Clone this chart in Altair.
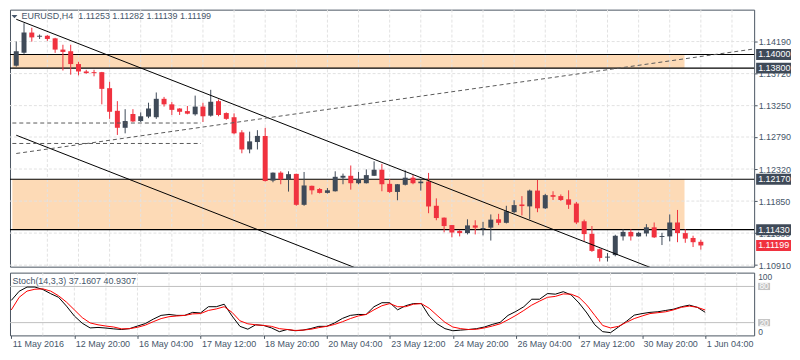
import json
import altair as alt
import pandas as pd

# ---------------- data ----------------
bars = list(range(89))
opens = [1.13836, 1.14024, 1.14322, 1.14261, 1.14275, 1.14237, 1.14072, 1.14048, 1.13860, 1.13751,
         1.13741, 1.13741, 1.13506, 1.13174, 1.12925, 1.13127, 1.13024, 1.13089, 1.13080, 1.13350,
         1.13269, 1.13208, 1.13170, 1.13123, 1.13236, 1.13103, 1.13316, 1.13141, 1.13080, 1.12858,
         1.12607, 1.12716, 1.12806, 1.12150, 1.12267, 1.12169, 1.12249, 1.11795, 1.12074, 1.12027,
         1.11970, 1.11994, 1.12193, 1.12221, 1.12112, 1.12112, 1.12221, 1.12310, 1.12103, 1.11984,
         1.12089, 1.12193, 1.12112, 1.12136, 1.11781, 1.11607, 1.11498, 1.11413, 1.11380, 1.11493,
         1.11441, 1.11460, 1.11583, 1.11531, 1.11687, 1.11800, 1.11772, 1.12004, 1.11744, 1.11937,
         1.11923, 1.11876, 1.11814, 1.11554, 1.11370, 1.11144, 1.11021, 1.11058, 1.11332, 1.11398,
         1.11332, 1.11375, 1.11465, 1.11323, 1.11332, 1.11536, 1.11380, 1.11309, 1.11253]
highs = [1.14190, 1.14459, 1.14393, 1.14293, 1.14285, 1.14245, 1.14143, 1.14143, 1.13893, 1.13775,
         1.13775, 1.13745, 1.13599, 1.13316, 1.13198, 1.13198, 1.13151, 1.13293, 1.13443, 1.13378,
         1.13302, 1.13212, 1.13245, 1.13397, 1.13293, 1.13482, 1.13340, 1.13151, 1.13137, 1.12890,
         1.12868, 1.12890, 1.12925, 1.12270, 1.12287, 1.12287, 1.12252, 1.12277, 1.12076, 1.12041,
         1.12041, 1.12287, 1.12253, 1.12372, 1.12277, 1.12315, 1.12433, 1.12395, 1.12174, 1.12100,
         1.12301, 1.12231, 1.12160, 1.12263, 1.11890, 1.11610, 1.11500, 1.11427, 1.11583, 1.11569,
         1.11545, 1.11654, 1.11663, 1.11781, 1.11862, 1.11923, 1.12018, 1.12160, 1.11956, 1.11994,
         1.11947, 1.12008, 1.11838, 1.11578, 1.11484, 1.11153, 1.11087, 1.11356, 1.11436, 1.11436,
         1.11398, 1.11512, 1.11536, 1.11384, 1.11654, 1.11720, 1.11436, 1.11342, 1.11282]
lows = [1.13822, 1.14010, 1.14190, 1.14228, 1.14200, 1.14024, 1.13765, 1.13704, 1.13694, 1.13718,
        1.13680, 1.13269, 1.13056, 1.12820, 1.12844, 1.13010, 1.13010, 1.13066, 1.13056, 1.13236,
        1.13113, 1.13113, 1.13123, 1.13103, 1.13010, 1.13089, 1.13094, 1.13042, 1.12830, 1.12551,
        1.12551, 1.12607, 1.12136, 1.12126, 1.12097, 1.11989, 1.11781, 1.11781, 1.11947, 1.11961,
        1.11961, 1.11990, 1.12097, 1.12018, 1.12097, 1.12108, 1.12218, 1.11994, 1.11970, 1.11862,
        1.12079, 1.12097, 1.12004, 1.11672, 1.11569, 1.11392, 1.11318, 1.11332, 1.11361, 1.11361,
        1.11347, 1.11271, 1.11498, 1.11522, 1.11672, 1.11640, 1.11583, 1.11687, 1.11735, 1.11866,
        1.11852, 1.11735, 1.11512, 1.11261, 1.11105, 1.10964, 1.10964, 1.11040, 1.11271, 1.11271,
        1.11328, 1.11332, 1.11309, 1.11205, 1.11260, 1.11247, 1.11238, 1.11176, 1.11139]
closes = [1.14048, 1.14322, 1.14251, 1.14275, 1.14228, 1.14072, 1.14038, 1.13860, 1.13751, 1.13727,
          1.13727, 1.13496, 1.13160, 1.12925, 1.13024, 1.13018, 1.13094, 1.13208, 1.13350, 1.13269,
          1.13188, 1.13160, 1.13132, 1.13236, 1.13094, 1.13307, 1.13113, 1.13056, 1.12844, 1.12607,
          1.12726, 1.12806, 1.12145, 1.12267, 1.12169, 1.12245, 1.11795, 1.12079, 1.12008, 1.11970,
          1.12008, 1.12206, 1.12221, 1.12112, 1.12174, 1.12231, 1.12310, 1.12097, 1.11984, 1.12097,
          1.12193, 1.12112, 1.12136, 1.11771, 1.11601, 1.11484, 1.11389, 1.11380, 1.11493, 1.11460,
          1.11455, 1.11578, 1.11531, 1.11701, 1.11791, 1.11777, 1.12004, 1.11744, 1.11937, 1.11913,
          1.11866, 1.11796, 1.11536, 1.11366, 1.11119, 1.11016, 1.11035, 1.11341, 1.11398, 1.11332,
          1.11384, 1.11465, 1.11318, 1.11337, 1.11536, 1.11380, 1.11299, 1.11247, 1.11199]

stoch_k = [56.8, 72, 79, 79, 75, 68, 62, 47.4, 31, 19, 11.2, 12, 11, 9.6, 8.6, 10, 14.3, 18.4, 25.7, 32,
           33.5, 32, 32, 37, 36, 46.4, 46.4, 50.5, 31, 13.8, 9.1, 16.4, 15.3, 11.2, 5, 8.6, 6.5, 7.6, 10.2, 13.8,
           13.8, 19.5, 27, 32, 33.5, 33.5, 46.4, 53, 53, 41.2, 48, 51.6, 51.6, 31, 18, 10, 6.5, 7.6, 8.6, 10,
           12.7, 17, 20.5, 32, 38.6, 46.4, 58.8, 58.8, 68.2, 67.2, 71.3, 66, 52.6, 36, 16.4, 5, 3.4, 12.7, 22, 32.4,
           35, 37, 38, 40.2, 42.3, 46.4, 49, 45.4, 37.1607]
stoch_d = [41, 62, 72.3, 75.4, 76, 72.3, 64.5, 54, 41.2, 28.3, 19.5, 16.4, 14.3, 12.7, 9.6, 10, 12.2, 15.8, 21.5, 26.7,
           29.8, 31, 32, 34.5, 35, 40.2, 42.7, 46.4, 37, 23, 18, 16.4, 15.3, 13.8, 10, 8.6, 7, 7.6, 9, 11.7,
           13.8, 17, 21.5, 26.7, 31, 33.5, 41.2, 48, 51.6, 46.4, 46.4, 50.5, 51.6, 43.8, 32, 20.5, 12.7, 10, 8.6, 9,
           11.2, 14.3, 18, 24.7, 32, 40.2, 49, 55.7, 62, 63.5, 67.6, 67.2, 62, 49, 32, 15.3, 11.2, 13.8, 20.5, 26.7,
           31, 35, 36.5, 38, 41.2, 45.4, 47.4, 45.4, 40.9307]

x_tick_bars = list(range(0, 89, 8))
x_tick_labels = ["11 May 2016", "12 May 20:00", "16 May 04:00", "17 May 12:00", "18 May 20:00",
                 "20 May 04:00", "23 May 12:00", "24 May 20:00", "26 May 04:00", "27 May 12:00",
                 "30 May 20:00", "1 Jun 04:00"]
price_ticks = [1.10910, 1.11380, 1.11850, 1.12320, 1.12790, 1.13250, 1.13720, 1.14190]
grid_bars = list(range(4, 94, 4))

level_prices = [1.14000, 1.13800, 1.12170, 1.11430]
band_start = [-0.5, -0.5]
band_end = [85.9, 85.9]
band_low = [1.13800, 1.11430]
band_high = [1.14000, 1.12170]
last_price = 1.11199

trend_ids = ["a", "a", "b", "b"]
trend_bars = [0, 82, 0, 44]
trend_prices = [1.14517, 1.10854, 1.12816, 1.10853]

dash_ids = ["r", "r", "h1", "h1", "h2", "h2"]
dash_bars = [0, 95, -0.5, 23.75, -0.5, 23.75]
dash_prices = [1.12548, 1.14084, 1.12995, 1.12995, 1.12695, 1.12695]

stoch_levels = [80, 20]
stoch_level_labels = ["80", "20"]

header = "EURUSD,H4\u00a0 1.11253 1.11282 1.11139 1.11199"
stoch_title = "Stoch(14,3,3) 37.1607 40.9307"

# ---------------- style ----------------
UP = "#3f4a58"
DOWN = "#f0323f"
BAND = "#fddab6"
GRID = "#e2e2e2"
TEXT = "#46566a"
BORDER = "#4b5662"
FONT = "Liberation Sans"
FS = 9
W = 747
H_MAIN = 258
H_STOCH = 63

xs = alt.Scale(domain=[-0.1625, 94.21], nice=False, zero=False)
ys = alt.Scale(domain=[1.10888, 1.14658], nice=False, zero=False)
sy = alt.Scale(domain=[-1.2, 102.9], nice=False, zero=False)

Y_AXIS = alt.Axis(orient="right", values=price_ticks, format=".5f", title=None, domain=False, grid=False,
                  labelFont=FONT, labelFontSize=FS, labelColor=TEXT, tickColor=BORDER, tickSize=3,
                  labelPadding=1, labelOverlap=False, labelFlush=False)
X_AXIS = alt.Axis(orient="bottom", values=x_tick_bars,
                  labelExpr=json.dumps(x_tick_labels) + "[round(datum.value / 8)]",
                  title=None, domain=False, grid=False,
                  labelFont=FONT, labelFontSize=FS, labelColor=TEXT, tickColor=BORDER, tickSize=3,
                  labelAlign="left", labelBaseline="top", labelPadding=1, labelOffset=1,
                  labelOverlap=False, labelFlush=False, labelBound=False)


def PX(field):
    return alt.X(field, scale=xs, axis=None)


def PY(field):
    return alt.Y(field, scale=ys, axis=Y_AXIS)


candles = pd.DataFrame({"bar": bars, "open": opens, "high": highs, "low": lows, "close": closes})
candles["dir"] = ["up" if c >= o else "down" for o, c in zip(opens, closes)]
ccolor = alt.Color("dir:N", scale=alt.Scale(domain=["up", "down"], range=[UP, DOWN]), legend=None)

bands = alt.Chart(pd.DataFrame({"x0": band_start, "x1": band_end, "lo": band_low, "hi": band_high})).mark_rect(
    color=BAND, clip=True).encode(x=PX("x0:Q"), x2="x1:Q", y=PY("lo:Q"), y2="hi:Q")

hgrid = alt.Chart(pd.DataFrame({"p": price_ticks})).mark_rule(
    color=GRID, strokeDash=[3, 2], strokeWidth=1).encode(y=PY("p:Q"))

vgrid = alt.Chart(pd.DataFrame({"b": grid_bars})).mark_rule(
    color=GRID, strokeDash=[3, 2], strokeWidth=1).encode(x=PX("b:Q"))

levels = alt.Chart(pd.DataFrame({"p": level_prices})).mark_rule(color="black", strokeWidth=1.2).encode(
    y=PY("p:Q"))

trends = alt.Chart(pd.DataFrame({"id": trend_ids, "b": trend_bars, "p": trend_prices})).mark_line(
    color="black", strokeWidth=1, clip=True).encode(x=PX("b:Q"), y=PY("p:Q"), detail="id:N")

dashes = alt.Chart(pd.DataFrame({"id": dash_ids, "b": dash_bars, "p": dash_prices})).mark_line(
    color="#5a5a5a", strokeWidth=1, strokeDash=[4, 3], clip=True).encode(
    x=PX("b:Q"), y=PY("p:Q"), detail="id:N")

wicks = alt.Chart(candles).mark_rule(strokeWidth=1).encode(
    x=PX("bar:Q"), y=PY("low:Q"), y2="high:Q", color=ccolor)

bodies = alt.Chart(candles).mark_bar(size=5).encode(
    x=PX("bar:Q"), y=PY("open:Q"), y2="close:Q", color=ccolor)

tri = alt.Chart(pd.DataFrame({"t": ["v"]})).mark_point(
    shape="M-1,-0.55L1,-0.55L0,0.55Z", size=36, filled=True, opacity=1, color=TEXT, strokeWidth=0).encode(
    x=alt.value(4.5), y=alt.value(7))

head = alt.Chart(pd.DataFrame({"t": [header]})).mark_text(
    align="left", baseline="middle", font=FONT, fontSize=FS, color=TEXT).encode(
    x=alt.value(11.5), y=alt.value(6.5), text="t:N")

box_prices = level_prices + [last_price]
box_df = pd.DataFrame({"p": box_prices,
                       "kind": ["level"] * len(level_prices) + ["last"],
                       "label": [f"{p:.5f}" for p in box_prices]})
boxes = alt.Chart(box_df).mark_point(
    shape="M-1,-0.314H1V0.314H-1Z", size=1225, filled=True, opacity=1, strokeWidth=0).encode(
    x=alt.value(766.5), y=PY("p:Q"),
    color=alt.Color("kind:N", scale=alt.Scale(domain=["level", "last"], range=["#000000", "#56606b"]),
                    legend=None))
box_text = alt.Chart(box_df).mark_text(
    align="left", baseline="middle", font=FONT, fontSize=FS, color="white").encode(
    x=alt.value(751), y=PY("p:Q"), text="label:N")

main = alt.layer(bands, hgrid, vgrid, levels, wicks, bodies, trends, dashes, tri, head, boxes, box_text).properties(
    width=W, height=H_MAIN)

# ---------------- stochastic panel ----------------
stoch_df = pd.DataFrame({"bar": bars, "k": stoch_k, "d": stoch_d})


def SX(field):
    return alt.X(field, scale=xs, axis=X_AXIS)


def SY(field):
    return alt.Y(field, scale=sy, axis=None)


vgrid2 = alt.Chart(pd.DataFrame({"b": grid_bars})).mark_rule(
    color=GRID, strokeDash=[3, 2], strokeWidth=1).encode(x=SX("b:Q"))
slev = alt.Chart(pd.DataFrame({"v": stoch_levels})).mark_rule(color="#c0c0c0", strokeWidth=1).encode(
    y=SY("v:Q"))
kline = alt.Chart(stoch_df).mark_line(color="black", strokeWidth=1).encode(x=SX("bar:Q"), y=SY("k:Q"))
dline = alt.Chart(stoch_df).mark_line(color="#ff0000", strokeWidth=1).encode(x=SX("bar:Q"), y=SY("d:Q"))

stitle = alt.Chart(pd.DataFrame({"t": [stoch_title]})).mark_text(
    align="left", baseline="middle", font=FONT, fontSize=FS, color=TEXT).encode(
    x=alt.value(2.5), y=alt.value(8.5), text="t:N")
s100 = alt.Chart(pd.DataFrame({"t": ["100"]})).mark_text(
    align="left", baseline="middle", font=FONT, fontSize=8.5, color=TEXT).encode(
    x=alt.value(751), y=alt.value(4.6), text="t:N")
s0 = alt.Chart(pd.DataFrame({"t": ["0"]})).mark_text(
    align="left", baseline="middle", font=FONT, fontSize=8.5, color=TEXT).encode(
    x=alt.value(751), y=alt.value(59.3), text="t:N")
lev_df = pd.DataFrame({"v": stoch_levels, "t": stoch_level_labels})
sbox = alt.Chart(lev_df).mark_point(
    shape="M-1,-0.6H1V0.6H-1Z", size=144, filled=True, opacity=1, strokeWidth=0, color="#c4c4c4").encode(
    x=alt.value(757), y=SY("v:Q"))
sbox_t = alt.Chart(lev_df).mark_text(
    align="center", baseline="middle", font=FONT, fontSize=8.5, color="white").encode(
    x=alt.value(757), y=SY("v:Q"), text="t:N")

stoch = alt.layer(vgrid2, slev, kline, dline, stitle, s100, s0, sbox, sbox_t).properties(width=W, height=H_STOCH)

chart = alt.vconcat(main, stoch, spacing=1).properties(padding=0).configure_view(stroke=BORDER, strokeWidth=1)

chart.save("out.html", embed_options={"renderer": "svg", "actions": False})
